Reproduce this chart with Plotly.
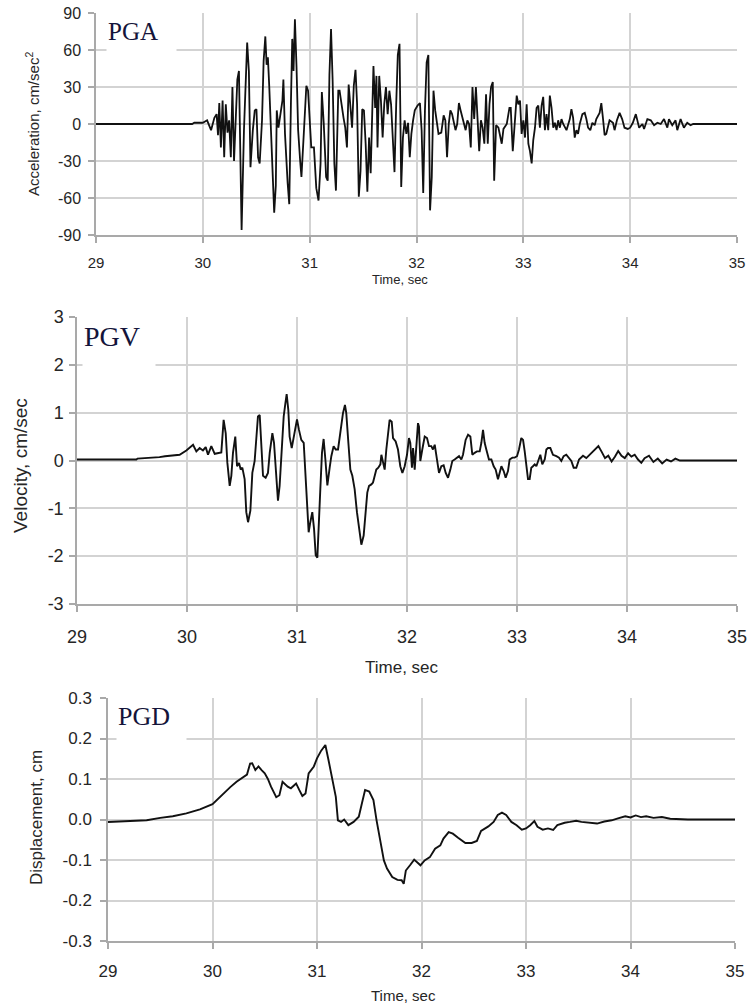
import plotly.graph_objects as go

# ---------------- data ----------------
x_ticks = [29, 30, 31, 32, 33, 34, 35]
x_ticktext = ["29", "30", "31", "32", "33", "34", "35"]
acc_ticks = [-90, -60, -30, 0, 30, 60, 90]
acc_ticktext = ["-90", "-60", "-30", "0", "30", "60", "90"]
vel_ticks = [-3, -2, -1, 0, 1, 2, 3]
vel_ticktext = ["-3", "-2", "-1", "0", "1", "2", "3"]
disp_ticks = [-0.3, -0.2, -0.1, 0.0, 0.1, 0.2, 0.3]
disp_ticktext = ["-0.3", "-0.2", "-0.1", "0.0", "0.1", "0.2", "0.3"]

acc_time = [29.00, 29.90, 29.92, 30.00, 30.040, 30.077, 30.108, 30.129, 30.142, 30.154,
            30.169, 30.185, 30.200, 30.215, 30.231, 30.246, 30.262, 30.277, 30.292, 30.314,
            30.323, 30.338, 30.354, 30.363, 30.385, 30.400, 30.415, 30.431, 30.446, 30.468,
            30.486, 30.502, 30.517, 30.532, 30.554, 30.569, 30.585, 30.597, 30.609, 30.622,
            30.640, 30.652, 30.668, 30.683, 30.692, 30.708, 30.723, 30.745, 30.754, 30.769,
            30.794, 30.809, 30.825, 30.837, 30.849, 30.862, 30.877, 30.892, 30.911, 30.923,
            30.948, 30.969, 30.985, 31.000, 31.015, 31.040, 31.062, 31.083, 31.102, 31.114,
            31.132, 31.154, 31.169, 31.185, 31.200, 31.215, 31.231, 31.246, 31.268, 31.280,
            31.300, 31.317, 31.333, 31.349, 31.365, 31.381, 31.397, 31.413, 31.429, 31.444,
            31.460, 31.476, 31.492, 31.508, 31.524, 31.540, 31.556, 31.571, 31.587, 31.597,
            31.613, 31.625, 31.635, 31.651, 31.667, 31.683, 31.698, 31.714, 31.730, 31.746,
            31.762, 31.778, 31.794, 31.810, 31.825, 31.841, 31.857, 31.873, 31.889, 31.905,
            31.921, 31.937, 31.952, 31.968, 31.984, 32.010, 32.032, 32.048, 32.063, 32.079,
            32.095, 32.111, 32.127, 32.143, 32.159, 32.175, 32.206, 32.232, 32.254, 32.270,
            32.286, 32.302, 32.317, 32.333, 32.365, 32.381, 32.397, 32.413, 32.429, 32.460,
            32.476, 32.492, 32.508, 32.524, 32.540, 32.556, 32.571, 32.587, 32.603, 32.619,
            32.635, 32.651, 32.667, 32.683, 32.698, 32.705, 32.714, 32.727, 32.745, 32.767,
            32.798, 32.814, 32.845, 32.870, 32.882, 32.901, 32.922, 32.938, 32.953, 32.969,
            32.984, 33.000, 33.016, 33.031, 33.047, 33.062, 33.078, 33.093, 33.109, 33.124,
            33.140, 33.155, 33.171, 33.186, 33.202, 33.217, 33.233, 33.248, 33.264, 33.280,
            33.295, 33.311, 33.326, 33.342, 33.357, 33.373, 33.404, 33.435, 33.450, 33.466,
            33.481, 33.497, 33.512, 33.528, 33.553, 33.575, 33.590, 33.606, 33.627, 33.646,
            33.668, 33.683, 33.714, 33.730, 33.745, 33.761, 33.776, 33.792, 33.807, 33.839,
            33.854, 33.876, 33.901, 33.925, 33.947, 33.978, 34.000, 34.025, 34.053, 34.084,
            34.115, 34.130, 34.161, 34.193, 34.224, 34.255, 34.286, 34.317, 34.348, 34.363,
            34.394, 34.425, 34.441, 34.472, 34.503, 34.534, 34.565, 34.590, 35.000]
acc_vals = [0, 0, 1, 1, 3, -5, 5, 8, -9, 17,
            -19, 19, -27, 16, -7, 3, -27, 30, -30, 16,
            36, 43, -35, -86, -5, 40, 66, 43, -35, -5,
            11, 12, -27, -32, 3, 51, 71, 48, 54, 30,
            -11, -43, -72, -50, 11, -3, 5, 19, 36, -8,
            -48, -65, 19, 69, 43, 85, 46, -5, -30, -43,
            -3, 31, 27, 5, -19, -19, -52, -62, -32, 26,
            0, -43, -46, 40, 77, 35, -32, -54, 27, 27,
            13, 5, -3, -19, 32, 16, -3, 31, 44, 16,
            -59, -38, 12, 11, -16, -55, -11, -40, 22, 47,
            13, 39, -19, 39, 19, -11, 16, 30, 8, 27,
            16, -16, -39, 16, 56, 65, -51, -11, 3, -8,
            1, -27, -8, 3, 11, 15, 17, -5, -56, 11,
            50, 56, -70, -43, 27, 11, -8, -7, 7, 3,
            -27, 0, 11, 8, -5, 0, 17, 11, 5, -5,
            3, 0, -19, 30, 4, 30, 5, -22, 3, -3,
            -16, 24, -16, 16, 30, 32, 34, -46, -1, -3,
            -16, -4, 0, 13, 13, -22, 8, 23, 16, 19,
            -8, 3, -11, 16, -16, -22, -32, -13, -3, 13,
            15, -3, 15, 22, -5, 8, -5, 23, 13, -3,
            1, -5, 3, -3, 4, 0, -5, 4, 12, 5,
            -11, -5, -8, 0, 8, 9, 4, -3, -5, 1,
            -1, 4, 9, 17, 5, -9, -8, -1, 3, 1,
            -5, 3, 9, 4, -3, -4, -3, 1, 8, -3,
            0, -4, 4, 3, -1, 1, 0, 4, -3, 4,
            -1, 3, -5, 4, -3, 1, -1, 0, 0]

vel_time = [29.000, 29.540, 29.550, 29.650, 29.750, 29.800, 29.870, 29.933, 29.994, 30.055,
            30.085, 30.115, 30.145, 30.170, 30.191, 30.221, 30.252, 30.312, 30.333, 30.352,
            30.367, 30.388, 30.403, 30.418, 30.439, 30.455, 30.473, 30.488, 30.503, 30.524,
            30.539, 30.555, 30.576, 30.594, 30.615, 30.630, 30.645, 30.661, 30.676, 30.691,
            30.715, 30.736, 30.752, 30.776, 30.791, 30.812, 30.827, 30.842, 30.864, 30.879,
            30.894, 30.906, 30.921, 30.933, 30.952, 30.970, 30.988, 31.000, 31.018, 31.039,
            31.061, 31.079, 31.094, 31.106, 31.121, 31.139, 31.155, 31.170, 31.185, 31.197,
            31.212, 31.227, 31.242, 31.258, 31.276, 31.297, 31.312, 31.333, 31.352, 31.373,
            31.388, 31.403, 31.418, 31.436, 31.448, 31.467, 31.485, 31.503, 31.524, 31.545,
            31.564, 31.585, 31.606, 31.624, 31.639, 31.655, 31.676, 31.691, 31.706, 31.721,
            31.739, 31.758, 31.767, 31.782, 31.797, 31.812, 31.827, 31.842, 31.861, 31.873,
            31.897, 31.918, 31.939, 31.958, 31.979, 32.000, 32.018, 32.030, 32.045, 32.055,
            32.070, 32.085, 32.100, 32.109, 32.121, 32.139, 32.161, 32.182, 32.200, 32.221,
            32.236, 32.252, 32.273, 32.291, 32.312, 32.333, 32.352, 32.373, 32.394, 32.412,
            32.433, 32.455, 32.473, 32.494, 32.509, 32.533, 32.555, 32.576, 32.594, 32.615,
            32.636, 32.661, 32.676, 32.691, 32.706, 32.721, 32.745, 32.767, 32.788, 32.806,
            32.827, 32.842, 32.858, 32.879, 32.897, 32.918, 32.933, 32.958, 32.979, 33.000,
            33.018, 33.039, 33.055, 33.070, 33.085, 33.100, 33.115, 33.130, 33.145, 33.161,
            33.176, 33.200, 33.212, 33.230, 33.252, 33.267, 33.282, 33.303, 33.327, 33.358,
            33.382, 33.403, 33.424, 33.448, 33.473, 33.494, 33.515, 33.539, 33.564, 33.600,
            33.630, 33.660, 33.700, 33.740, 33.770, 33.800, 33.830, 33.860, 33.890, 33.920,
            33.950, 33.980, 34.010, 34.040, 34.070, 34.100, 34.130, 34.160, 34.200, 34.240,
            34.280, 34.320, 34.360, 34.400, 34.440, 34.480, 35.000]
vel_vals = [0.02, 0.02, 0.04, 0.05, 0.07, 0.09, 0.10, 0.12, 0.21, 0.33,
            0.19, 0.26, 0.21, 0.28, 0.12, 0.30, 0.14, 0.17, 0.85, 0.57,
            -0.05, -0.53, -0.32, 0.16, 0.50, -0.12, -0.05, -0.19, -0.15, -0.39,
            -1.08, -1.29, -1.05, -0.26, -0.01, 0.50, 0.92, 0.95, 0.43, -0.32,
            -0.36, -0.26, 0.16, 0.57, 0.37, -0.39, -0.84, -0.53, 0.30, 0.92,
            1.19, 1.39, 1.06, 0.50, 0.26, 0.50, 0.71, 0.86, 0.64, 0.43,
            0.37, -0.39, -0.88, -1.50, -1.29, -1.08, -1.43, -1.98, -2.03, -1.22,
            -0.60, 0.16, 0.45, 0.02, -0.52, -0.15, 0.09, 0.30, 0.23, 0.23,
            0.50, 0.81, 0.99, 1.16, 0.99, 0.37, -0.19, -0.32, -0.60, -1.08,
            -1.43, -1.76, -1.57, -1.08, -0.67, -0.53, -0.50, -0.46, -0.32, -0.19,
            -0.15, -0.08, 0.12, -0.08, -0.19, 0.23, 0.61, 0.85, 0.81, 0.47,
            0.40, 0.23, -0.12, -0.26, -0.12, 0.12, 0.47, 0.37, -0.15, 0.26,
            -0.19, 0.43, 0.78, 0.71, -0.01, 0.23, 0.50, 0.47, 0.30, 0.30,
            0.23, 0.33, -0.05, -0.26, -0.12, -0.10, -0.26, -0.36, -0.19, -0.01,
            0.02, 0.06, 0.09, 0.02, 0.12, 0.43, 0.54, 0.50, 0.12, 0.16,
            0.19, 0.19, 0.37, 0.64, 0.37, 0.23, 0.02, 0.02, -0.12, -0.19,
            -0.39, -0.26, -0.12, -0.22, -0.36, -0.22, 0.02, 0.06, 0.06, 0.09,
            0.23, 0.47, 0.43, 0.19, -0.12, -0.39, -0.39, -0.15, -0.12, -0.08,
            -0.12, 0.06, 0.12, -0.08, 0.02, 0.23, 0.26, 0.26, 0.12, 0.09,
            0.06, -0.01, 0.09, 0.12, 0.06, -0.01, -0.15, -0.15, 0.02, 0.10,
            0.05, 0.12, 0.20, 0.30, 0.18, 0.05, 0.10, -0.02, 0.08, 0.20,
            0.10, 0.05, 0.15, 0.08, 0.12, 0.02, -0.05, 0.05, 0.10, -0.03,
            0.04, -0.06, 0.02, -0.02, 0.04, 0.00, 0.00]

disp_time = [29.00, 29.21, 29.37, 29.50, 29.62, 29.75, 29.88, 30.00, 30.07, 30.17,
             30.23, 30.30, 30.33, 30.36, 30.38, 30.41, 30.44, 30.47, 30.50, 30.53,
             30.56, 30.61, 30.64, 30.67, 30.72, 30.75, 30.80, 30.83, 30.86, 30.89,
             30.92, 30.97, 31.00, 31.04, 31.08, 31.11, 31.15, 31.18, 31.20, 31.23,
             31.26, 31.30, 31.35, 31.40, 31.43, 31.46, 31.50, 31.54, 31.57, 31.61,
             31.64, 31.67, 31.72, 31.77, 31.81, 31.83, 31.85, 31.89, 31.93, 31.99,
             32.03, 32.08, 32.13, 32.18, 32.21, 32.26, 32.30, 32.35, 32.42, 32.48,
             32.53, 32.57, 32.64, 32.69, 32.73, 32.77, 32.81, 32.86, 32.91, 32.96,
             33.00, 33.04, 33.08, 33.11, 33.16, 33.21, 33.26, 33.30, 33.37, 33.42,
             33.48, 33.53, 33.59, 33.68, 33.75, 33.82, 33.88, 33.95, 34.00, 34.05,
             34.10, 34.15, 34.22, 34.30, 34.38, 34.45, 34.55, 35.00]
disp_vals = [-0.006, -0.004, -0.002, 0.004, 0.008, 0.015, 0.025, 0.038, 0.056, 0.080,
             0.093, 0.105, 0.111, 0.138, 0.139, 0.122, 0.131, 0.122, 0.114, 0.100,
             0.081, 0.055, 0.060, 0.093, 0.081, 0.077, 0.089, 0.073, 0.058, 0.064,
             0.114, 0.131, 0.151, 0.170, 0.184, 0.147, 0.098, 0.056, -0.002, -0.006,
             0.000, -0.014, -0.006, 0.007, 0.040, 0.073, 0.069, 0.048, -0.002, -0.060,
             -0.101, -0.121, -0.142, -0.149, -0.150, -0.159, -0.126, -0.113, -0.099, -0.113,
             -0.101, -0.093, -0.072, -0.064, -0.047, -0.031, -0.035, -0.045, -0.058, -0.058,
             -0.053, -0.028, -0.017, -0.006, 0.011, 0.017, 0.011, -0.006, -0.014, -0.025,
             -0.022, -0.014, -0.004, -0.018, -0.025, -0.022, -0.026, -0.014, -0.008, -0.006,
             -0.003, -0.006, -0.008, -0.010, -0.005, -0.002, 0.003, 0.008, 0.005, 0.010,
             0.006, 0.008, 0.004, 0.006, 0.002, 0.001, 0.000, 0.000]

# ---------------- layout helpers ----------------
# the page body margin is removed (see post_script), so figure pixels = window pixels
W, H = 750, 1006


def px(x):
    return x / W


def py(y):
    return 1 - y / H


GRID = "#d3d3d3"
AXLINE = "#a9a9a9"
TXT = "#262626"
SANS = "Liberation Sans, Arial, sans-serif"
SERIF = "Liberation Serif, Times New Roman, serif"


def axis_style(fs, standoff):
    return dict(showgrid=True, gridcolor=GRID, gridwidth=1.5, showline=True,
                linecolor=AXLINE, linewidth=1.5, ticks="outside", ticklen=6,
                tickcolor=AXLINE, tickwidth=1.5, zeroline=False, automargin=False,
                ticklabeloverflow="allow",
                tickfont=dict(family=SANS, size=fs, color=TXT),
                ticklabelstandoff=standoff)


fig = go.Figure()
fig.add_trace(go.Scatter(x=acc_time, y=acc_vals, mode="lines", xaxis="x", yaxis="y",
                         line=dict(color="#111111", width=1.8), showlegend=False))
fig.add_trace(go.Scatter(x=vel_time, y=vel_vals, mode="lines", xaxis="x2", yaxis="y2",
                         line=dict(color="#111111", width=1.9), showlegend=False))
fig.add_trace(go.Scatter(x=disp_time, y=disp_vals, mode="lines", xaxis="x3", yaxis="y3",
                         line=dict(color="#111111", width=1.9), showlegend=False))

fig.update_layout(
    width=W, height=H, autosize=False,
    margin=dict(l=0, r=0, t=0, b=0),
    paper_bgcolor="white", plot_bgcolor="white",
    xaxis=dict(domain=[px(96), px(737)], anchor="y", range=[29, 35],
               tickvals=x_ticks, ticktext=x_ticktext, **axis_style(15, 7)),
    yaxis=dict(domain=[py(235), py(13)], anchor="x", range=[-90, 90],
               tickvals=acc_ticks, ticktext=acc_ticktext, **axis_style(16, 4)),
    xaxis2=dict(domain=[px(77), px(737)], anchor="y2", range=[29, 35],
                tickvals=x_ticks, ticktext=x_ticktext, **axis_style(18, 10)),
    yaxis2=dict(domain=[py(604), py(317)], anchor="x2", range=[-3, 3],
                tickvals=vel_ticks, ticktext=vel_ticktext, **axis_style(18, 2)),
    xaxis3=dict(domain=[px(108), px(735)], anchor="y3", range=[29, 35],
                tickvals=x_ticks, ticktext=x_ticktext, **axis_style(17, 8)),
    yaxis3=dict(domain=[py(941), py(698)], anchor="x3", range=[-0.3, 0.3],
                tickvals=disp_ticks, ticktext=disp_ticktext, **axis_style(17, 5)),
)

annotations = [
    # panel labels with white boxes covering gridlines
    dict(text="PGA", x=px(106), y=py(16), xanchor="left", yanchor="top", width=67, height=38,
         align="left", valign="top", bgcolor="white", borderpad=1, showarrow=False,
         xref="paper", yref="paper", font=dict(family=SERIF, size=25, color="#14143a")),
    dict(text="PGV", x=px(82), y=py(319), xanchor="left", yanchor="top", width=70, height=52,
         align="left", valign="top", bgcolor="white", borderpad=1, showarrow=False,
         xref="paper", yref="paper", font=dict(family=SERIF, size=28, color="#14143a")),
    dict(text="PGD", x=px(116), y=py(700), xanchor="left", yanchor="top", width=67, height=45,
         align="left", valign="top", bgcolor="white", borderpad=1, showarrow=False,
         xref="paper", yref="paper", font=dict(family=SERIF, size=26, color="#14143a")),
    # axis titles
    dict(text="Acceleration, cm/sec<sup>2</sup>", x=px(32), y=py(124), textangle=-90,
         showarrow=False, xref="paper", yref="paper", xanchor="center", yanchor="middle",
         font=dict(family=SANS, size=15, color=TXT)),
    dict(text="Time, sec", x=px(400), y=py(279), showarrow=False, xref="paper", yref="paper",
         xanchor="center", yanchor="middle", font=dict(family=SANS, size=13, color=TXT)),
    dict(text="Velocity, cm/sec", x=px(20), y=py(466), textangle=-90,
         showarrow=False, xref="paper", yref="paper", xanchor="center", yanchor="middle",
         font=dict(family=SANS, size=19, color=TXT)),
    dict(text="Time, sec", x=px(402), y=py(667), showarrow=False, xref="paper", yref="paper",
         xanchor="center", yanchor="middle", font=dict(family=SANS, size=17, color=TXT)),
    dict(text="Displacement, cm", x=px(36), y=py(818), textangle=-90,
         showarrow=False, xref="paper", yref="paper", xanchor="center", yanchor="middle",
         font=dict(family=SANS, size=17, color=TXT)),
    dict(text="Time, sec", x=px(404), y=py(995), showarrow=False, xref="paper", yref="paper",
         xanchor="center", yanchor="middle", font=dict(family=SANS, size=15, color=TXT)),
]
fig.update_layout(annotations=annotations)

fig.write_html("out.html",
               config={"displayModeBar": False},
               post_script="document.body.style.margin='0';"
                           "document.documentElement.style.overflow='hidden';")
